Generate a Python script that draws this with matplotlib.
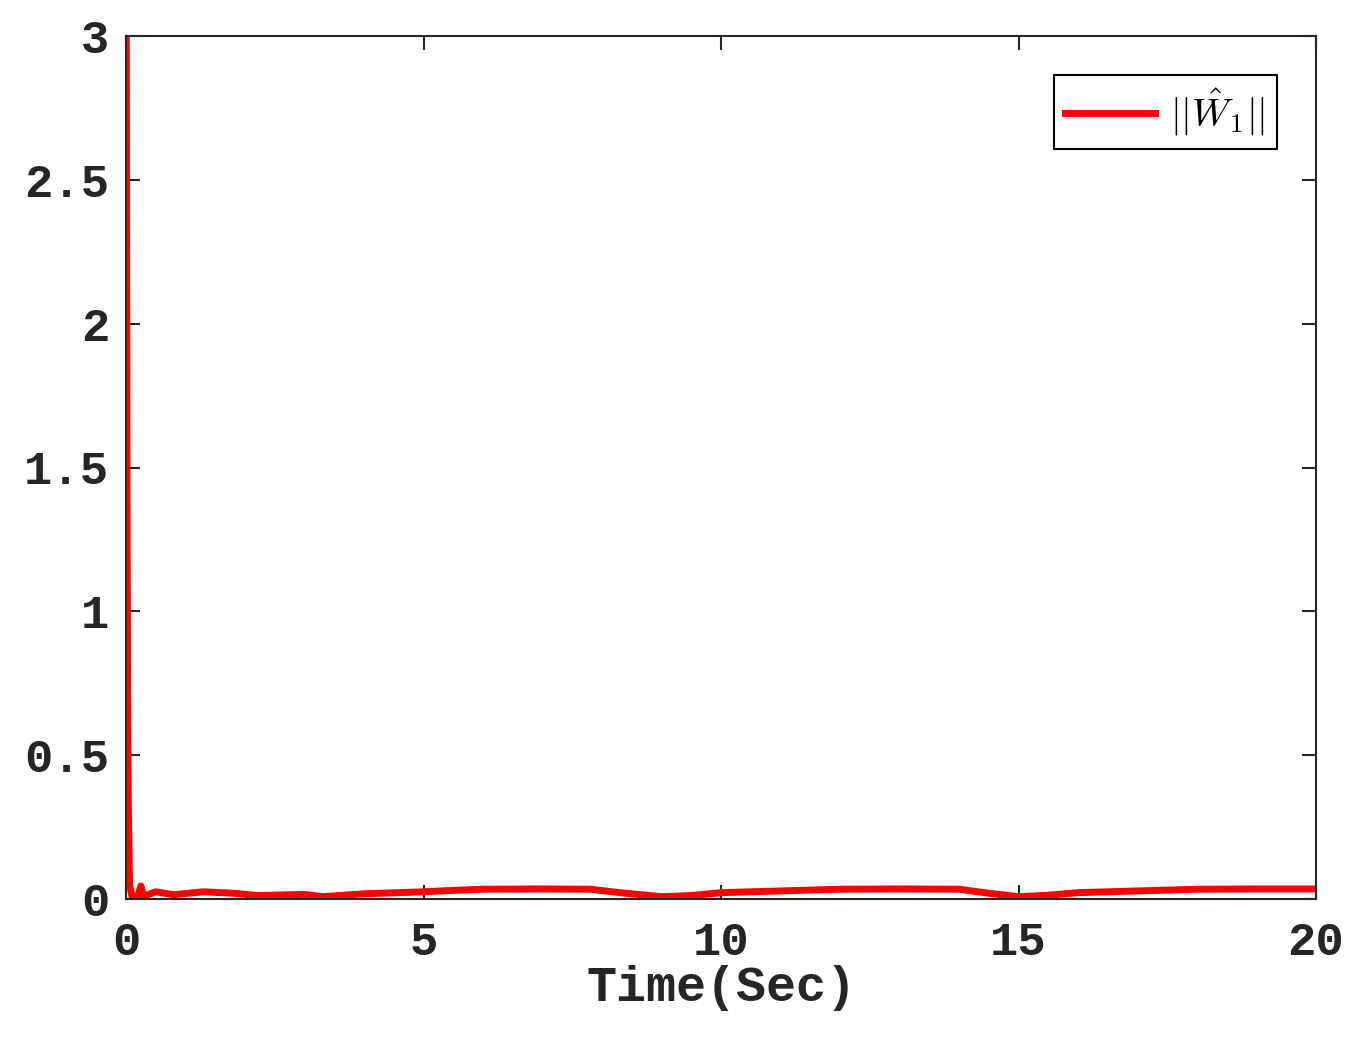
import matplotlib
matplotlib.use("Agg")
import matplotlib.pyplot as plt

# values
t = [0, 0.01, 0.02, 0.03, 0.04, 0.06, 0.1, 0.2, 0.25, 0.3, 0.5, 0.8, 1.3, 1.8, 2.2, 3.0, 3.3,
     4.0, 5.0, 5.5, 6.0, 7.0, 7.8, 8.3, 9.0, 9.5, 10.0, 11.0, 12.0, 13.0, 14.0, 14.5, 15.0,
     15.5, 16.0, 17.0, 18.0, 19.0, 20.0]
w1 = [3.6, 2.4, 1.2, 0.6, 0.3, 0.05, 0.01, 0.01, 0.045, 0.01, 0.025, 0.015, 0.025, 0.02,
      0.012, 0.016, 0.008, 0.018, 0.025, 0.03, 0.034, 0.035, 0.034, 0.022, 0.008, 0.012,
      0.022, 0.028, 0.034, 0.035, 0.034, 0.02, 0.008, 0.013, 0.022, 0.028, 0.034, 0.035, 0.035]

plt.rcParams['mathtext.fontset'] = 'cm'
fig = plt.figure(figsize=(13.7, 10.41), dpi=100)
ax = fig.add_axes([126 / 1370, 1 - 899 / 1041, (1316 - 126) / 1370, (899 - 36) / 1041])
ax.plot(t, w1, color='red', linewidth=5, label=r'$||\hat{W}_1||$')
ax.set_xlim(0, 20)
ax.set_ylim(0, 3)
ax.set_xticks([0, 5, 10, 15, 20])
ax.set_yticks([0, 0.5, 1, 1.5, 2, 2.5, 3])
ax.set_yticklabels(['0', '0.5', '1', '1.5', '2', '2.5', '3'])
ax.tick_params(direction='in', top=True, right=True, length=10, width=1.5,
               labelsize=34, colors='#262626')
ax.tick_params(axis='x', pad=16)
ax.tick_params(axis='y', pad=12)
for lbl in ax.get_xticklabels() + ax.get_yticklabels():
    lbl.set_fontfamily('Liberation Mono')
    lbl.set_fontweight('bold')
for s in ax.spines.values():
    s.set_linewidth(1.5)
    s.set_color('#262626')
ax.set_xlabel('Time(Sec)', fontsize=36, fontfamily='Liberation Mono', fontweight='bold',
              color='#262626', labelpad=0)
leg = ax.legend(loc='upper right', fontsize=28, fancybox=False, framealpha=1,
                edgecolor='black', handlelength=2.3, handletextpad=0.4,
                borderpad=0.3, borderaxespad=1.0)
leg.get_frame().set_linewidth(1.5)
fig.savefig('out.png', dpi=100)
